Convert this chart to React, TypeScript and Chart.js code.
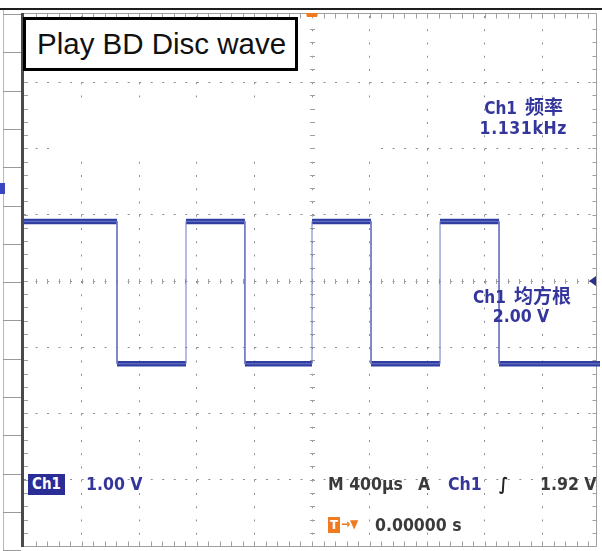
import React, { useEffect, useRef } from "react";
import { Chart, registerables } from "chart.js";

Chart.register(...registerables);

// ---- data (time in µs, level in divisions at 1.00 V/div, 0 = screen centre) ----
const timeMinUs = -2000;
const timeMaxUs = 2000;
const timeDivUs = 400;
const voltMin = -4;
const voltMax = 4;
const voltDiv = 1;

const segStartUs = [-2000, -1354, -875, -466, 0, 410, 889, 1299];
const segEndUs = [-1354, -875, -466, 0, 410, 889, 1299, 2000];
const segLevelV = [0.9, -1.25, 0.9, -1.25, 0.9, -1.25, 0.9, -1.25];

const titleText = "Play BD Disc wave";
const freqCh = "Ch1";
const freqLabel = "频率";
const freqValue = "1.131kHz";
const rmsCh = "Ch1";
const rmsLabel = "均方根";
const rmsValue = "2.00 V";
const chName = "Ch1";
const chScale = "1.00 V";
const timebase = "M 400µs";
const trigMode = "A";
const trigSrc = "Ch1";
const trigSlope = "∫";
const trigLevel = "1.92 V";
const trigPos = "0.00000 s";

const BLUE = "#34369c";
const GRAY_TXT = "#3a3a3a";
const FONT = '"DejaVu Sans Condensed", "Noto Sans CJK SC", sans-serif';
const CJK = '"Noto Sans CJK SC", sans-serif';

const scopeDecor = {
  id: "scopeDecor",
  beforeDatasetsDraw(chart: any) {
    const { ctx, chartArea: a, scales } = chart;
    const xs = scales.x;
    const ys = scales.y;
    ctx.save();
    // blank patch in the graticule
    ctx.fillStyle = "#ffffff";
    ctx.fillRect(50, 99, 327, 56);

    // top black rule
    ctx.fillStyle = "#1e1e1e";
    ctx.fillRect(0, 8, 602, 2);

    // left strip
    ctx.strokeStyle = "#b8b8b8";
    ctx.lineWidth = 1;
    ctx.beginPath();
    ctx.moveTo(3.5, 10);
    ctx.lineTo(3.5, 551);
    ctx.stroke();
    ctx.strokeStyle = "#9a9a9a";
    for (let y = 14; y < 551; y += 38.3) {
      ctx.beginPath();
      ctx.moveTo(3, Math.round(y) + 0.5);
      ctx.lineTo(21, Math.round(y) + 0.5);
      ctx.stroke();
    }

    // frame
    ctx.strokeStyle = "#a0a0a0";
    ctx.lineWidth = 1;
    const topY = a.top - 2.5;
    const botY = a.bottom + 0.5;
    const rightX = a.right - 3.5;
    ctx.beginPath();
    ctx.moveTo(a.left, topY);
    ctx.lineTo(rightX, topY);
    ctx.moveTo(a.left, botY);
    ctx.lineTo(rightX, botY);
    ctx.moveTo(rightX, topY);
    ctx.lineTo(rightX, botY);
    ctx.stroke();
    ctx.fillStyle = "#4a4a4a";
    ctx.fillRect(a.left - 3, a.top - 3, 3, a.bottom - a.top + 4);

    // edge ticks + centre crosshair ticks
    ctx.strokeStyle = "#a0a0a0";
    ctx.beginPath();
    const xStep = timeDivUs / 5;
    for (let t = timeMinUs + xStep; t < timeMaxUs; t += xStep) {
      const px = Math.round(xs.getPixelForValue(t)) + 0.5;
      ctx.moveTo(px, topY);
      ctx.lineTo(px, topY + 5);
      ctx.moveTo(px, botY);
      ctx.lineTo(px, botY - 5);
      const cy = ys.getPixelForValue(0);
      ctx.moveTo(px, cy - 2);
      ctx.lineTo(px, cy + 3);
    }
    const yStep = voltDiv / 5;
    for (let v = voltMin + yStep; v < voltMax - 1e-6; v += yStep) {
      const py = Math.round(ys.getPixelForValue(v)) + 0.5;
      ctx.moveTo(a.left, py);
      ctx.lineTo(a.left + 4, py);
      ctx.moveTo(rightX, py);
      ctx.lineTo(rightX - 4, py);
      const cx = xs.getPixelForValue(0);
      ctx.moveTo(cx - 2, py);
      ctx.lineTo(cx + 3, py);
    }
    ctx.stroke();
    ctx.restore();
  },
  afterDatasetsDraw(chart: any) {
    const { ctx, chartArea: a, scales } = chart;
    const xs = scales.x;
    const ys = scales.y;
    ctx.save();
    // trigger position marker (top)
    const tx = xs.getPixelForValue(0);
    ctx.fillStyle = "#f07a20";
    ctx.beginPath();
    ctx.moveTo(tx - 6, a.top - 3);
    ctx.lineTo(tx + 6, a.top - 3);
    ctx.lineTo(tx + 5, a.top + 1);
    ctx.lineTo(tx - 5, a.top + 1);
    ctx.closePath();
    ctx.fill();
    // trigger level arrow (right)
    const ty = ys.getPixelForValue(0);
    ctx.fillStyle = "#2a3288";
    ctx.beginPath();
    ctx.moveTo(a.right - 11, ty);
    ctx.lineTo(a.right - 4, ty - 5);
    ctx.lineTo(a.right - 4, ty + 5);
    ctx.closePath();
    ctx.fill();
    // channel marker (left edge)
    ctx.fillStyle = "#3b46c0";
    ctx.fillRect(0, 183, 5, 11);
    ctx.restore();
  },
};

export default function App() {
  const canvasRef = useRef<HTMLCanvasElement>(null);

  useEffect(() => {
    const tracePoints = segStartUs.flatMap((s, i) => [
      { x: s, y: segLevelV[i] },
      { x: segEndUs[i], y: segLevelV[i] },
    ]);
    const flatPoints = segStartUs.flatMap((s, i) => [
      { x: s, y: segLevelV[i] },
      { x: segEndUs[i], y: segLevelV[i] },
      { x: segEndUs[i], y: null as any },
    ]);
    const edgeGrid = (ctx: any) => {
      const v = ctx.tick ? ctx.tick.value : 0;
      const sc = ctx.scale;
      return v <= sc.min || v >= sc.max ? "rgba(0,0,0,0)" : "#8e8e8e";
    };
    const chart = new Chart(canvasRef.current!, {
      type: "line",
      data: {
        datasets: [
          {
            label: "edges",
            data: tracePoints,
            borderColor: "#7078c4",
            borderWidth: 1,
            pointRadius: 0,
            tension: 0,
          },
          {
            label: "Ch1",
            data: flatPoints,
            borderColor: "#2f3ea2",
            borderWidth: 5.5,
            pointRadius: 0,
            tension: 0,
            spanGaps: false,
          },
        ],
      },
      options: {
        animation: false,
        responsive: false,
        devicePixelRatio: 1,
        layout: { padding: { left: 24, right: 2, top: 16, bottom: 5 } },
        plugins: { legend: { display: false }, tooltip: { enabled: false }, title: { display: false } },
        scales: {
          x: {
            type: "linear",
            min: timeMinUs,
            max: timeMaxUs,
            ticks: { display: false, stepSize: timeDivUs },
            grid: { drawTicks: false, color: edgeGrid, lineWidth: 1 },
            border: { display: false, dash: [2, 11.25] },
          },
          y: {
            type: "linear",
            min: voltMin,
            max: voltMax,
            ticks: { display: false, stepSize: voltDiv },
            grid: { drawTicks: false, color: edgeGrid, lineWidth: 1 },
            border: { display: false, dash: [2, 9.52] },
          },
        },
      },
      plugins: [scopeDecor],
    });
    return () => chart.destroy();
  }, []);

  const txt = (style: React.CSSProperties): React.CSSProperties => ({
    position: "absolute",
    fontFamily: FONT,
    fontWeight: "bold",
    fontSize: 17.5,
    lineHeight: "20px",
    whiteSpace: "nowrap",
    ...style,
  });
  const cjk: React.CSSProperties = { fontFamily: CJK, fontSize: 19, marginLeft: 8 };

  return (
    <div style={{ position: "absolute", left: 0, top: 0, width: 602, height: 551, background: "#fff", overflow: "hidden" }}>
      <canvas ref={canvasRef} width={602} height={551} style={{ display: "block", position: "absolute", left: 0, top: 0 }} />
      <div
        style={{
          position: "absolute",
          left: 23,
          top: 17,
          width: 275,
          height: 54,
          boxSizing: "border-box",
          border: "3px solid #000",
          background: "#fff",
          fontFamily: '"Liberation Sans", Arial, sans-serif',
          fontSize: 29.5,
          lineHeight: "48px",
          paddingLeft: 11,
          color: "#111",
          whiteSpace: "nowrap",
        }}
      >
        {titleText}
      </div>
      <div style={txt({ right: 39, top: 96, color: BLUE, textAlign: "right", fontSize: 17 })}>
        {freqCh}
        <span style={cjk}>{freqLabel}</span>
      </div>
      <div style={txt({ right: 35, top: 118, color: BLUE, textAlign: "right", letterSpacing: 0.6 })}>{freqValue}</div>
      <div style={txt({ left: 442, width: 160, top: 285, color: BLUE, textAlign: "center", fontSize: 17 })}>
        {rmsCh}
        <span style={cjk}>{rmsLabel}</span>
      </div>
      <div style={txt({ left: 441, width: 160, top: 306, color: BLUE, textAlign: "center" })}>{rmsValue}</div>
      <div
        style={txt({
          left: 28,
          top: 474,
          width: 37,
          height: 21,
          lineHeight: "21px",
          background: "#2b2d96",
          color: "#fff",
          textAlign: "center",
          fontSize: 15,
        })}
      >
        {chName}
      </div>
      <div style={txt({ left: 86, top: 474, color: BLUE })}>{chScale}</div>
      <div style={txt({ left: 328, top: 474, color: GRAY_TXT })}>{timebase}</div>
      <div style={txt({ left: 418, top: 474, color: GRAY_TXT })}>{trigMode}</div>
      <div style={txt({ left: 448, top: 474, color: BLUE })}>{trigSrc}</div>
      <div style={txt({ left: 499, top: 474, color: "#222", fontStyle: "italic" })}>{trigSlope}</div>
      <div style={txt({ left: 540, top: 474, color: GRAY_TXT })}>{trigLevel}</div>
      <div
        style={txt({
          left: 328,
          top: 517,
          width: 12,
          height: 16,
          lineHeight: "16px",
          background: "#f07a20",
          color: "#fff",
          fontSize: 13,
          textAlign: "center",
        })}
      >
        T
      </div>
      <div style={txt({ left: 341, top: 514, color: "#f07a20", fontSize: 12 })}>→▼</div>
      <div style={txt({ left: 375, top: 515, color: GRAY_TXT })}>{trigPos}</div>
    </div>
  );
}
